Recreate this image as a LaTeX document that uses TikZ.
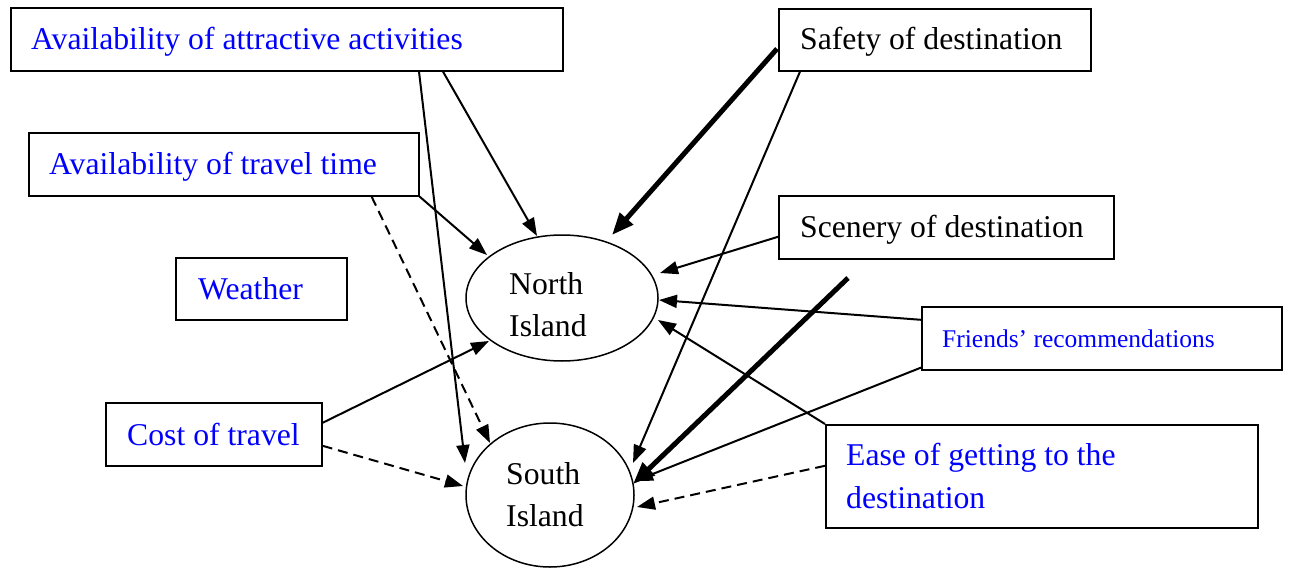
\documentclass[tikz,border=0pt]{standalone}
\usepackage{fontspec}
\setmainfont{Liberation Serif}
\usetikzlibrary{arrows.meta,shapes.geometric}
\definecolor{labelblue}{RGB}{0,0,255}

\begin{document}
\begin{tikzpicture}[x=1pt,y=-1pt,
  box/.style={draw, line width=1.6pt, rectangle, anchor=north west, inner sep=0pt},
  island/.style={draw, ellipse, line width=1.5pt, inner sep=0pt},
  lbl/.style={anchor=base west, inner sep=0pt, font=\fontsize{31.7}{43}\selectfont},
  bluelbl/.style={lbl, text=labelblue},
  link/.style={line width=2pt, -{Triangle[length=18pt,width=13pt]}},
  heavy/.style={line width=5pt, -{Triangle[length=22pt,width=17pt]}},
  dashlink/.style={link, dash pattern=on 10pt off 6pt},
]
\useasboundingbox (0,0) rectangle (1289,567);

% the two destinations
\node[island, minimum width=192pt, minimum height=126pt] (north) at (562,298) {};
\node[island, minimum width=168pt, minimum height=144pt] (south) at (550,495) {};
% multi-line labels are anchored at the baseline of their last line
\node[lbl, align=left, font=\fontsize{31.7}{42}\selectfont] (northT) at (509,336) {North\\Island};
\node[lbl, align=left, font=\fontsize{31.7}{42}\selectfont] (southT) at (506,526) {South\\Island};

% factor boxes
\node[box, minimum width=552pt, minimum height=63pt] (act) at (10,7) {};
\node[box, minimum width=390pt, minimum height=63pt] (time) at (28,132) {};
\node[box, minimum width=171pt, minimum height=62pt] (weather) at (175,257) {};
\node[box, minimum width=216pt, minimum height=63pt] (cost) at (105,402) {};
\node[box, minimum width=312pt, minimum height=62pt] (safety) at (778,8) {};
\node[box, minimum width=335pt, minimum height=63pt] (scenery) at (778,195) {};
\node[box, minimum width=360pt, minimum height=63pt] (friends) at (921,306) {};
\node[box, minimum width=432pt, minimum height=103pt] (ease) at (825,424) {};

% box texts
\node[bluelbl] (actT) at (31,50) {Availability of attractive activities};
\node[bluelbl] (timeT) at (49,174) {Availability of travel time};
\node[bluelbl] (weatherT) at (198,299) {Weather};
\node[bluelbl] (costT) at (127,445) {Cost of travel};
\node[lbl] (safetyT) at (800,50) {Safety of destination};
\node[lbl] (sceneryT) at (800,237) {Scenery of destination};
\node[bluelbl, font=\fontsize{25.5}{30}\selectfont] (friendsT) at (942,347) {Friends’ recommendations};
\node[bluelbl, align=left] (easeT) at (846,508) {Ease of getting to the\\destination};

\coordinate (heavystart) at (848,278);

% influences
\draw[link] ([shift={(433,0)}]act.south west) -- ([shift={(-25,-62)}]north.center);
\draw[link] ([shift={(409,0)}]act.south west) -- ([shift={(-85,-32)}]south.center);
\draw[link] (time.south east) -- ([shift={(-75,-43)}]north.center);
\draw[dashlink] ([shift={(-48,0)}]time.south east) -- ([shift={(-60,-52)}]south.center);
\draw[link] ([shift={(0,-11.5)}]cost.east) -- ([shift={(-73,43)}]north.center);
\draw[dashlink] ([shift={(0,11.5)}]cost.east) -- ([shift={(-87,-9)}]south.center);
\draw[heavy] ([shift={(-1,9)}]safety.west) -- ([shift={(50,-63)}]north.center);
\draw[link] ([shift={(22,0)}]safety.south west) -- ([shift={(83,-32)}]south.center);
\draw[link] ([shift={(0,9.5)}]scenery.west) -- ([shift={(98,-25)}]north.center);
\draw[heavy] (heavystart) -- ([shift={(83,-11)}]south.center);
\draw[link] ([shift={(0,-18.5)}]friends.west) -- ([shift={(97,2)}]north.center);
\draw[link] ([shift={(0,-3)}]friends.south west) -- ([shift={(85,-14)}]south.center);
\draw[link] (ease.north west) -- ([shift={(96,22)}]north.center);
\draw[dashlink] ([shift={(0,-10.5)}]ease.west) -- ([shift={(87,12)}]south.center);
\end{tikzpicture}
\end{document}
